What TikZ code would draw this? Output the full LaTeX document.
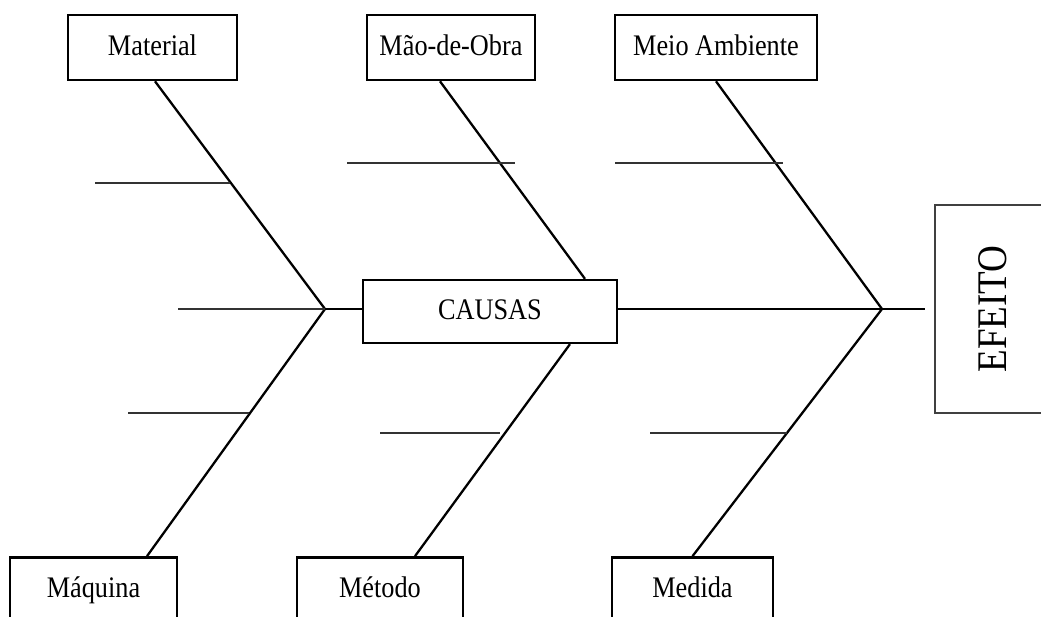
\documentclass[tikz,border=0pt]{standalone}
\usepackage{fontspec}
\setmainfont{Liberation Serif}[FakeStretch=0.88]
\begin{document}
\begin{tikzpicture}[x=0.02cm,y=-0.02cm,every node/.style={font=\fontsize{17}{20}\selectfont},
  box/.style={draw,line width=1.5pt,minimum height=1.3cm,inner sep=0pt,text height=12pt,text depth=3pt},
  bone/.style={line width=1.3pt},
  rib/.style={line width=1pt,black!80}]
  \useasboundingbox (0,0) rectangle (1041,617);
  \clip (0,0) rectangle (1041,617);
  % top causes
  \node[box,minimum width=3.38cm] (mat) at (152.5,47.5) {Material};
  \node[box,minimum width=3.36cm] (mdo) at (451,47.5) {Mão-de-Obra};
  \node[box,minimum width=4.04cm] (mei) at (716,47.5) {Meio Ambiente};
  % bottom causes
  \node[box,minimum width=3.34cm] (maq) at (93.5,590) {Máquina};
  \node[box,minimum width=3.32cm] (met) at (380,590) {Método};
  \node[box,minimum width=3.22cm] (med) at (692.5,590) {Medida};
  % spine
  \node[box,line width=1.3pt,minimum width=5.08cm,minimum height=1.26cm] (cau) at (490,311.5) {CAUSAS};
  \node[draw=black!75,line width=0.8pt,rotate=90,minimum width=4.16cm,minimum height=2.32cm,
    font=\fontsize{24}{28}\selectfont] (efe) at (993,309) {EFEITO};
  \coordinate (jl) at (325,309);
  \coordinate (jr) at (882,309);
  \coordinate (tail) at (925,309);
  \draw[line width=1pt] (jl) -- (jl -| cau.west) (cau.east |- jr) -- (jr) -- (tail);
  % bones
  \draw[bone] ([xshift=0.05cm]mat.south) -- (jl);
  \draw[bone] ([xshift=-0.22cm]mdo.south) -- ([xshift=1.9cm]cau.north);
  \draw[bone] (mei.south) -- (jr);
  \draw[bone] ([xshift=1.07cm]maq.north) -- (jl);
  \draw[bone] ([xshift=0.7cm]met.north) -- ([xshift=1.6cm]cau.south);
  \draw[bone] (med.north) -- (jr);
  % ribs
  \foreach \xa/\xb/\y in {95/230/183, 347/515/163, 615/783/163, 178/325/309,
    128/249/413, 380/500/433, 650/787/433}
    \draw[rib] (\xa,\y) -- (\xb,\y);
\end{tikzpicture}
\end{document}
